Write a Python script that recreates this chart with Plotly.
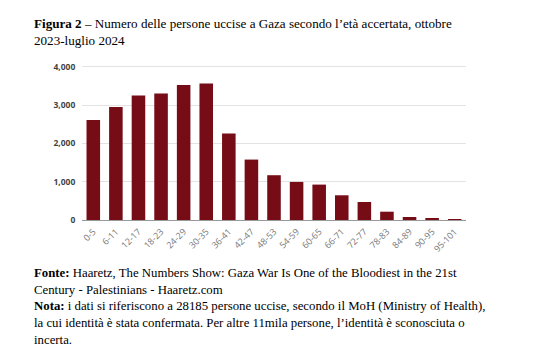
import plotly.graph_objects as go

categories = ["0-5", "6-11", "12-17", "18-23", "24-29", "30-35", "36-41", "42-47",
              "48-53", "54-59", "60-65", "66-71", "72-77", "78-83", "84-89", "90-95", "95-101"]
values = [2610, 2950, 3254, 3306, 3526, 3568, 2259, 1579,
          1170, 995, 925, 646, 471, 217, 79, 44, 18]
y_ticks = [0, 1000, 2000, 3000, 4000]
y_tick_labels = ["0", "1,000", "2,000", "3,000", "4,000"]

title_text = ("<b>Figura 2</b> – Numero delle persone uccise a Gaza secondo l’età accertata, ottobre"
              "<br>2023-luglio 2024")
footer_text = ("<b>Fonte:</b> Haaretz, The Numbers Show: Gaza War Is One of the Bloodiest in the 21st"
               "<br>Century - Palestinians - Haaretz.com"
               "<br><b>Nota:</b> i dati si riferiscono a 28185 persone uccise, secondo il MoH (Ministry of Health),"
               "<br>la cui identità è stata confermata. Per altre 11mila persone, l’identità è sconosciuta o"
               "<br>incerta.")

OFF = 8  # default page body margin
SW, SH = 541, 362  # screen size
W, H = SW - 2 * OFF, SH - 2 * OFF
# plot area in screen pixels
PX0, PX1, PY0, PY1 = 82, 466, 65.4, 220
L = PX0 - OFF
R = W - (PX1 - OFF)
T = PY0 - OFF
B = H - (PY1 - OFF)
ph = H - T - B
pw = W - L - R

def px_x(p):
    return (p - OFF - L) / pw

def px_y(p):
    return (H - B - (p - OFF)) / ph

fig = go.Figure()
fig.add_trace(go.Bar(x=categories, y=values, marker=dict(color="#760c16", line=dict(width=0)),
                     hoverinfo="x+y"))

fig.update_layout(
    width=W, height=H,
    margin=dict(l=L, r=R, t=T, b=B, autoexpand=False),
    paper_bgcolor="white", plot_bgcolor="white",
    showlegend=False,
    bargap=0.4,
    xaxis=dict(
        automargin=False,
        tickangle=-45,
        tickfont=dict(family="Open Sans", size=9, color="#777777"),
        showgrid=False,
        showline=True, linecolor="#999999", linewidth=1,
        ticks="outside", ticklen=2, tickcolor="white",
        fixedrange=True,
    ),
    yaxis=dict(
        automargin=False,
        range=[0, 4050],
        tickvals=y_ticks, ticktext=y_tick_labels,
        tickfont=dict(family="Open Sans", size=8.5, color="#444444", weight="bold"),
        showgrid=True, gridcolor="#e3e3e3", gridwidth=1,
        zeroline=False, showline=False,
        ticks="outside", ticklen=4, tickcolor="white",
        fixedrange=True,
    ),
    annotations=[
        dict(text=title_text, xref="paper", yref="paper", x=px_x(32), y=px_y(15),
             xanchor="left", yanchor="top", align="left", showarrow=False,
             font=dict(family="Liberation Serif", size=13.1, color="black")),
        dict(text=footer_text, xref="paper", yref="paper", x=px_x(32), y=px_y(264),
             xanchor="left", yanchor="top", align="left", showarrow=False,
             font=dict(family="Liberation Serif", size=12.8, color="black")),
    ],
)

fig.write_html("out.html")
